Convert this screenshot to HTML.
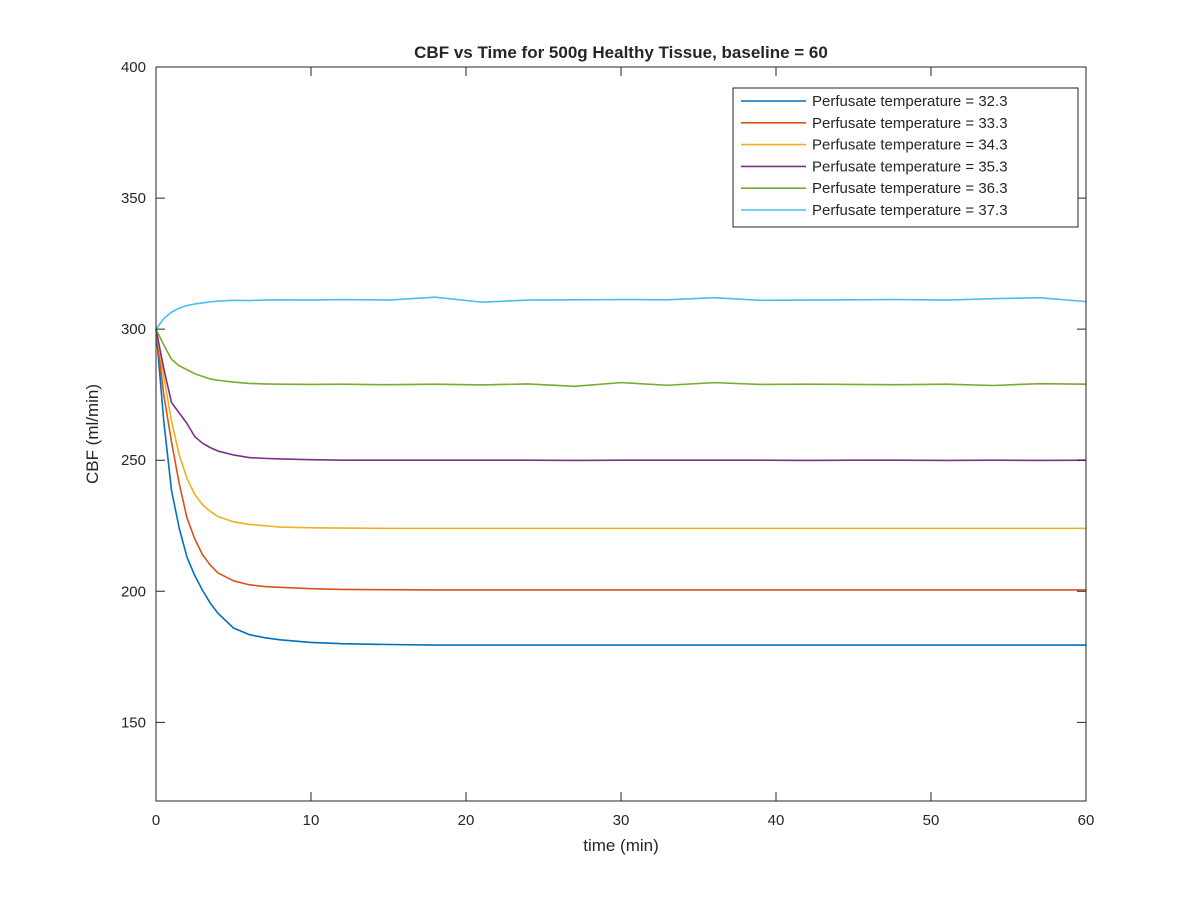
<!DOCTYPE html>
<html><head><meta charset="utf-8"><style>
body{margin:0;background:#fff}
svg text{font-family:"Liberation Sans",Helvetica,sans-serif;fill:#262626}
</style></head><body>
<svg id="chart" width="1200" height="900" viewBox="0 0 1200 900">
<rect width="1200" height="900" fill="#fff"/>
<g id="plot"></g>
</svg>
<script>
const times=[0,0.5,1,1.5,2,2.5,3,3.5,4,5,6,7,8,10,12,15,18,21,24,27,30,33,36,39,42,45,48,51,54,57,60];
const seriesNames=["Perfusate temperature = 32.3","Perfusate temperature = 33.3","Perfusate temperature = 34.3","Perfusate temperature = 35.3","Perfusate temperature = 36.3","Perfusate temperature = 37.3"];
const s323=[300,265,238.5,224,213,206,200.4,195.5,191.6,186,183.5,182.3,181.5,180.5,180,179.7,179.5,179.5,179.5,179.5,179.5,179.5,179.5,179.5,179.5,179.5,179.5,179.5,179.5,179.5,179.5];
const s333=[300,275,257,241,228,220,214,210,207,204,202.5,201.8,201.5,201,200.7,200.6,200.5,200.5,200.5,200.5,200.5,200.5,200.5,200.5,200.5,200.5,200.5,200.5,200.5,200.5,200.5];
const s343=[300,282,265,252,243,237,233,230.5,228.5,226.5,225.5,225,224.5,224.2,224.1,224,224,224,224,224,224,224,224,224,224,224,224,224,224,224,224];
const s353=[300,285,272,268,264,259,256.5,254.8,253.5,252,251,250.7,250.5,250.2,250,250,250,250,250,249.9,250,250,250,250,249.9,250,250,249.9,250,249.9,250];
const s363=[300,294,288.5,286,284.5,283,282,281,280.5,279.8,279.3,279.1,279,278.9,279,278.8,279,278.7,279.1,278.2,279.6,278.6,279.6,278.9,279,278.9,278.8,279,278.5,279.2,279];
const s373=[300,304,306.5,308,309,309.6,310,310.4,310.7,311,310.9,311.1,311.2,311.1,311.3,311.1,312.2,310.3,311.1,311.2,311.3,311.2,312,311,311.1,311.2,311.3,311.1,311.6,312,310.5];
const xTicks=[0,10,20,30,40,50,60];
const yTicks=[150,200,250,300,350,400];
const colors=["#0072BD","#D95319","#EDB120","#7E2F8E","#77AC30","#4DBEEE"];
const allSeries=[s323,s333,s343,s353,s363,s373];

const L=156,R=1086,T=67,B=801,xMin=0,xMax=60,yMin=120,yMax=400;
const xs=v=>L+(v-xMin)/(xMax-xMin)*(R-L);
const ys=v=>B-(v-yMin)/(yMax-yMin)*(B-T);
const NS="http://www.w3.org/2000/svg";
const g=document.getElementById("plot");
function mk(tag,attrs,parent){const e=document.createElementNS(NS,tag);for(const k in attrs)e.setAttribute(k,attrs[k]);(parent||g).appendChild(e);return e;}

const title=mk("text",{x:621,y:58,"text-anchor":"middle","font-size":"17","font-weight":"bold"});
title.textContent="CBF vs Time for 500g Healthy Tissue, baseline = 60";



allSeries.forEach((s,i)=>{
  const d=s.map((v,j)=>(j?"L":"M")+xs(times[j]).toFixed(2)+","+ys(v).toFixed(2)).join(" ");
  const p=mk("path",{d:d,fill:"none",stroke:colors[i],"stroke-width":"1.6","stroke-linejoin":"round"});
  
  
});

const box=mk("rect",{x:L,y:T,width:R-L,height:B-T,fill:"none",stroke:"#262626","stroke-width":"1"});



xTicks.forEach(t=>{
  const x=xs(t);
  const tk=mk("path",{d:`M${x},${B}V${B-9}M${x},${T}V${T+9}`,stroke:"#262626","stroke-width":"1"});
  
  
  const tx=mk("text",{x:x,y:B+24,"text-anchor":"middle","font-size":"15"});
  tx.textContent=t;
  
  
});
yTicks.forEach(t=>{
  const y=ys(t);
  const tk=mk("path",{d:`M${L},${y}H${L+9}M${R},${y}H${R-9}`,stroke:"#262626","stroke-width":"1"});
  
  
  const tx=mk("text",{x:L-10,y:y+5,"text-anchor":"end","font-size":"15"});
  tx.textContent=t;
  
  
});

const xl=mk("text",{x:621,y:851,"text-anchor":"middle","font-size":"17"});
xl.textContent="time (min)";


const yl=mk("text",{x:0,y:0,"text-anchor":"middle","font-size":"17",transform:"translate(98,434) rotate(-90)"});
yl.textContent="CBF (ml/min)";



const lg=mk("g",{});


mk("rect",{x:733,y:88,width:345,height:139,fill:"#fff",stroke:"#262626","stroke-width":"1"},lg);
seriesNames.forEach((n,i)=>{
  const y=101+i*21.8;
  const ln=mk("line",{x1:741,x2:806,y1:y,y2:y,stroke:colors[i],"stroke-width":"1.6"},lg);
  
  
  const tx=mk("text",{x:812,y:y+5,"font-size":"15"},lg);
  tx.textContent=n;
  
  
});
</script>
</body></html>
